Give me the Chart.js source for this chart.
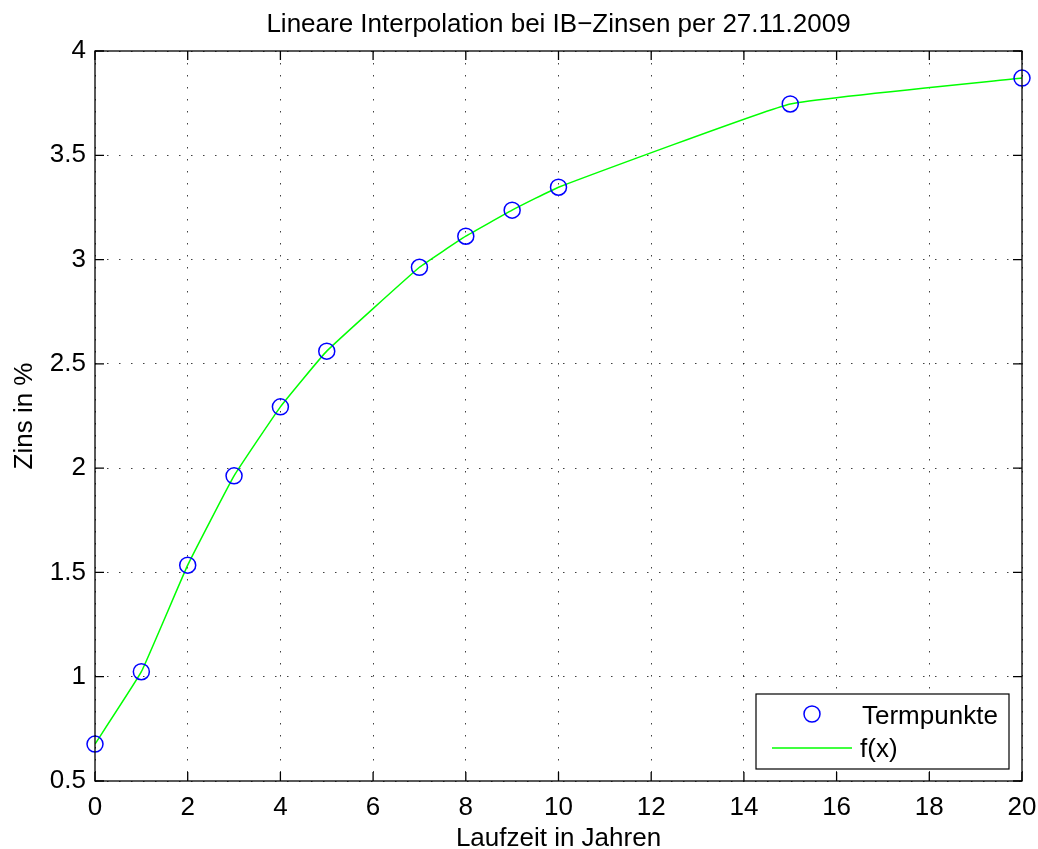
<!DOCTYPE html>
<html>
<head>
<meta charset="utf-8">
<script src="https://cdn.jsdelivr.net/npm/chart.js@4"></script>
<style>
  html, body { margin: 0; padding: 0; background: #fff; }
  #wrap { width: 1038px; height: 849px; }
</style>
</head>
<body>
<div id="wrap"><canvas id="zinsChart" width="1038" height="849"></canvas></div>
<script>
// Termpunkte (Laufzeit in Jahren, Zins in %)
var laufzeit = [0, 1, 2, 3, 4, 5, 7, 8, 9, 10, 15, 20];
var zins = [0.677, 1.024, 1.535, 1.963, 2.294, 2.561, 2.963, 3.112, 3.237, 3.347, 3.746, 3.870];

var xTicks = [0, 2, 4, 6, 8, 10, 12, 14, 16, 18, 20];
var yTicks = [0.5, 1, 1.5, 2, 2.5, 3, 3.5, 4];

var titel = 'Lineare Interpolation bei IB\u2212Zinsen per 27.11.2009';
var xTitel = 'Laufzeit in Jahren';
var yTitel = 'Zins in %';
var legendLabels = ['Termpunkte', 'f(x)'];

var FONT = '"Liberation Sans", Arial, Helvetica, sans-serif';
Chart.defaults.font.family = FONT;
Chart.defaults.font.size = 26;
Chart.defaults.color = '#000';

var points = laufzeit.map(function (x, i) { return { x: x, y: zins[i] }; });

// box, inward ticks, titles and legend like matlab
var matlabAxes = {
    id: 'matlabAxes',
    afterDatasetsDraw: function (chart) {
        var ctx = chart.ctx, a = chart.chartArea;
        var xs = chart.scales.x, ys = chart.scales.y;
        ctx.save();
        ctx.strokeStyle = '#000';
        ctx.lineWidth = 1.3;
        ctx.strokeRect(a.left, a.top, a.right - a.left, a.bottom - a.top);
        ctx.beginPath();
        xTicks.forEach(function (v) {
            var px = xs.getPixelForValue(v);
            ctx.moveTo(px, a.bottom); ctx.lineTo(px, a.bottom - 9);
            ctx.moveTo(px, a.top); ctx.lineTo(px, a.top + 9);
        });
        yTicks.forEach(function (v) {
            var py = ys.getPixelForValue(v);
            ctx.moveTo(a.left, py); ctx.lineTo(a.left + 9, py);
            ctx.moveTo(a.right, py); ctx.lineTo(a.right - 9, py);
        });
        ctx.stroke();

        // titles, centred on the axes box
        var cx = (a.left + a.right) / 2;
        ctx.font = '26px ' + FONT;
        ctx.fillStyle = '#000';
        ctx.textAlign = 'center';
        ctx.textBaseline = 'alphabetic';
        ctx.fillText(titel, cx, 32);
        ctx.fillText(xTitel, cx, 846);
        ctx.save();
        ctx.translate(32, (a.top + a.bottom) / 2);
        ctx.rotate(-Math.PI / 2);
        ctx.fillText(yTitel, 0, 0);
        ctx.restore();

        // legend box bottom right
        var bx = a.right - 266, by = a.bottom - 87, bw = 253, bh = 75;
        ctx.fillStyle = '#fff';
        ctx.fillRect(bx, by, bw, bh);
        ctx.lineWidth = 1.2;
        ctx.strokeStyle = '#000';
        ctx.strokeRect(bx, by, bw, bh);
        ctx.strokeStyle = '#0000ff';
        ctx.lineWidth = 1.5;
        ctx.beginPath();
        ctx.arc(bx + 56, by + 20, 8, 0, Math.PI * 2);
        ctx.stroke();
        ctx.strokeStyle = '#00ff00';
        ctx.beginPath();
        ctx.moveTo(bx + 16, by + 54); ctx.lineTo(bx + 96, by + 54);
        ctx.stroke();
        ctx.fillStyle = '#000';
        ctx.textAlign = 'left';
        ctx.fillText(legendLabels[0], bx + 106, by + 30);
        ctx.fillText(legendLabels[1], bx + 104, by + 63);
        ctx.restore();
    }
};

var ctx = document.getElementById('zinsChart').getContext('2d');
window.zinsChart = new Chart(ctx, {
    type: 'scatter',
    plugins: [matlabAxes],
    data: {
        datasets: [{
            label: 'Termpunkte',
            data: points,
            showLine: false,
            pointStyle: 'circle',
            pointRadius: 8,
            pointBorderWidth: 1.5,
            pointBorderColor: '#0000ff',
            pointBackgroundColor: 'rgba(0,0,0,0)',
            clip: false,
            order: 1
        },
        {
            label: 'f(x)',
            data: points,
            showLine: true,
            borderColor: '#00ff00',
            borderWidth: 1.5,
            pointRadius: 0,
            tension: 0.1,
            order: 2
        }]
    },
    options: {
        responsive: false,
        animation: false,
        layout: { padding: { left: 0, right: 16, top: 51, bottom: 0 } },
        plugins: {
            legend: { display: false },
            tooltip: { enabled: false },
            title: { display: false }
        },
        scales: {
            x: {
                type: 'linear',
                min: 0, max: 20,
                afterBuildTicks: function (s) { s.ticks = xTicks.map(function (v) { return { value: v }; }); },
                afterFit: function (s) { s.height = 68; s.paddingLeft = 0; s.paddingRight = 0; },
                ticks: {
                    padding: 11, maxRotation: 0, autoSkip: false,
                    callback: function (v) { return String(v); }
                },
                grid: {
                    drawTicks: false,
                    color: 'rgba(0,0,0,0.75)',
                    lineWidth: 1
                },
                border: { display: false, dash: [1.5, 10.5] }
            },
            y: {
                type: 'linear',
                min: 0.5, max: 4,
                afterBuildTicks: function (s) { s.ticks = yTicks.map(function (v) { return { value: v }; }); },
                afterFit: function (s) { s.width = 95; s.paddingTop = 0; s.paddingBottom = 0; },
                ticks: {
                    padding: 9, autoSkip: false,
                    callback: function (v) { return String(v); }
                },
                grid: {
                    drawTicks: false,
                    color: 'rgba(0,0,0,0.75)',
                    lineWidth: 1
                },
                border: { display: false, dash: [1.5, 10.5] }
            }
        }
    }
});
</script>
</body>
</html>
